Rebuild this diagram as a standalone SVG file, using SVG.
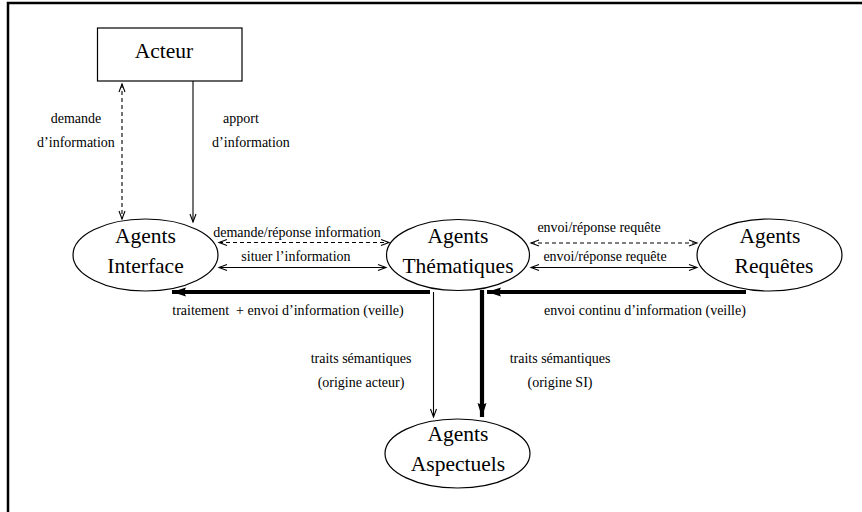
<svg xmlns="http://www.w3.org/2000/svg" width="862" height="512" viewBox="0 0 862 512">
  <style>
    .node { fill: #fff; stroke: #000; stroke-width: 1.2; }
    text { font-family: 'Liberation Serif', 'Times New Roman', 'DejaVu Serif', serif; fill: #000; text-anchor: middle; }
    .big { font-size: 21.5px; }
    .lbl { font-size: 14px; white-space: pre; }
    .thin { fill: none; stroke: #000; stroke-width: 1.1; }
    .dash { fill: none; stroke: #000; stroke-width: 1.1; stroke-dasharray: 4 3; }
    .thick { fill: none; stroke: #000; stroke-width: 4.2; }
  </style>
  <defs>
    <marker id="open" markerUnits="userSpaceOnUse" markerWidth="12" markerHeight="10" refX="9" refY="4" orient="auto-start-reverse" viewBox="0 0 12 8">
      <path d="M1,1 L9,4 L1,7" fill="none" stroke="#000" stroke-width="1.1" stroke-dasharray="none"/>
    </marker>
    <marker id="solid" markerUnits="userSpaceOnUse" markerWidth="16" markerHeight="12" refX="14" refY="5" orient="auto" viewBox="0 0 16 10">
      <path d="M0,0.5 L14,5 L0,9.5 L2,5 Z" fill="#000" stroke="none"/>
    </marker>
  </defs>

  <!-- outer frame -->
  <rect x="8" y="3" width="880" height="530" fill="#fff" stroke="#000" stroke-width="2.5"/>

  <!-- connectors -->
  <g id="connectors">
    <!-- Acteur <-> Agents Interface -->
    <line class="dash" x1="122" y1="84" x2="122" y2="219" marker-start="url(#open)" marker-end="url(#open)"/>
    <line class="thin" x1="193" y1="81" x2="193" y2="222" marker-end="url(#open)"/>

    <!-- Interface <-> Thématiques -->
    <line class="dash" x1="219" y1="242.5" x2="389" y2="242.5" marker-start="url(#open)" marker-end="url(#open)"/>
    <line class="thin" x1="219" y1="267.5" x2="386" y2="267.5" marker-start="url(#open)" marker-end="url(#open)"/>

    <!-- Thématiques <-> Requêtes -->
    <line class="dash" x1="531" y1="243" x2="697" y2="243" marker-start="url(#open)" marker-end="url(#open)"/>
    <line class="thin" x1="531" y1="267.5" x2="697" y2="267.5" marker-start="url(#open)" marker-end="url(#open)"/>

    <!-- veille flows -->
    <line class="thick" x1="430" y1="292" x2="172" y2="292" marker-end="url(#solid)"/>
    <line class="thick" x1="746" y1="292" x2="487" y2="292" marker-end="url(#solid)"/>

    <!-- semantic traits towards Aspectuels -->
    <line class="thin" x1="433.5" y1="292" x2="433.5" y2="417" marker-end="url(#open)"/>
    <line class="thick" x1="482" y1="290" x2="482" y2="417" marker-end="url(#solid)"/>
  </g>

  <!-- connector labels -->
  <g id="labels">
    <text class="lbl" x="76" y="123">demande</text>
    <text class="lbl" x="76" y="147">d’information</text>
    <text class="lbl" x="241" y="123">apport</text>
    <text class="lbl" x="251" y="147">d’information</text>
    <text class="lbl" x="297" y="237">demande/réponse information</text>
    <text class="lbl" x="296" y="261">situer l’information</text>
    <text class="lbl" x="599" y="232">envoi/réponse requête</text>
    <text class="lbl" x="605" y="261">envoi/réponse requête</text>
    <text class="lbl" x="288" y="315">traitement  + envoi d’information (veille)</text>
    <text class="lbl" x="645" y="315">envoi continu d’information (veille)</text>
    <text class="lbl" x="361" y="363">traits sémantiques</text>
    <text class="lbl" x="361" y="387">(origine acteur)</text>
    <text class="lbl" x="560" y="363">traits sémantiques</text>
    <text class="lbl" x="560" y="387">(origine SI)</text>
  </g>

  <!-- nodes -->
  <g id="acteur">
    <rect class="node" x="97.5" y="28" width="144.5" height="53"/>
    <text class="big" x="164" y="58">Acteur</text>
  </g>
  <g id="agents-interface">
    <ellipse class="node" cx="145.5" cy="255" rx="72.5" ry="36"/>
    <text class="big" x="145.5" y="243">Agents</text>
    <text class="big" x="145.5" y="273">Interface</text>
  </g>
  <g id="agents-thematiques">
    <ellipse class="node" cx="458" cy="255" rx="71.5" ry="35.5"/>
    <text class="big" x="458" y="243">Agents</text>
    <text class="big" x="458" y="273">Thématiques</text>
  </g>
  <g id="agents-requetes">
    <ellipse class="node" cx="769.5" cy="255" rx="72.5" ry="36"/>
    <text class="big" x="770" y="243">Agents</text>
    <text class="big" x="774" y="273">Requêtes</text>
  </g>
  <g id="agents-aspectuels">
    <ellipse class="node" cx="457.5" cy="453.5" rx="72.5" ry="34.5"/>
    <text class="big" x="458" y="441">Agents</text>
    <text class="big" x="458" y="471">Aspectuels</text>
  </g>
</svg>
